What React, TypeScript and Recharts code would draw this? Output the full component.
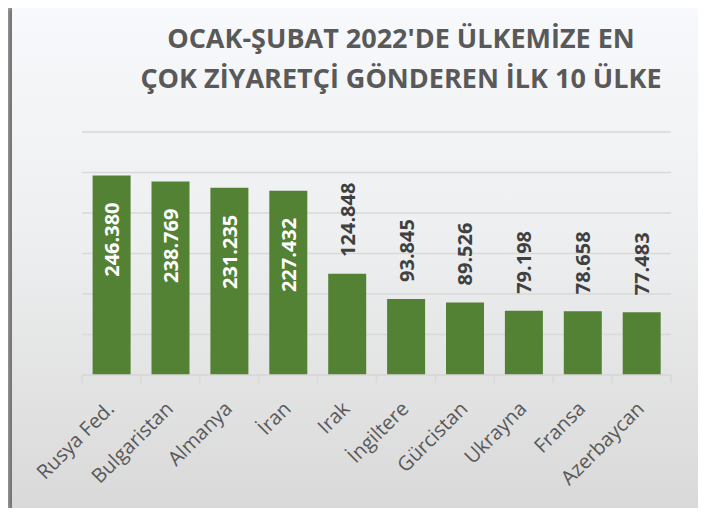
import React from "react";
import { BarChart, Bar, XAxis, YAxis, CartesianGrid, LabelList } from "recharts";

const categories = ["Rusya Fed.", "Bulgaristan", "Almanya", "İran", "Irak", "İngiltere", "Gürcistan", "Ukrayna", "Fransa", "Azerbaycan"];
const values = [246380, 238769, 231235, 227432, 124848, 93845, 89526, 79198, 78658, 77483];
const yTicks = [0, 50000, 100000, 150000, 200000, 250000, 300000];
const titleLines = ["OCAK-ŞUBAT 2022'DE ÜLKEMİZE EN", "ÇOK ZİYARETÇİ GÖNDEREN İLK 10 ÜLKE"];

const data = categories.map((name, i) => ({ name, value: values[i] }));

const W = 706;
const H = 516;
const PLOT_LEFT = 82;
const PLOT_RIGHT = 671;
const BAND = (PLOT_RIGHT - PLOT_LEFT) / categories.length;
const FONT = "'Open Sans', 'DejaVu Sans', sans-serif";

const fmt = (v: number) => String(v).replace(/\B(?=(\d{3})+(?!\d))/g, ".");

const AxisTick = (props: any) => {
  const { x, y, payload, index } = props;
  const tx = x + 4;
  const ty = y + 27;
  const bx = x - BAND / 2;
  return (
    <g>
      <line x1={bx} y1={y - 8} x2={bx} y2={y} stroke="#d9d9d9" strokeWidth={1.5} />
      {index === categories.length - 1 && (
        <line x1={x + BAND / 2} y1={y - 8} x2={x + BAND / 2} y2={y} stroke="#d9d9d9" strokeWidth={1.5} />
      )}
      <text
        x={tx}
        y={ty}
        transform={`rotate(-45, ${tx}, ${ty})`}
        textAnchor="end"
        fill="#595959"
        fontFamily={FONT}
        fontSize={20}
      >
        {payload.value}
      </text>
    </g>
  );
};

const ValueLabel = (props: any) => {
  const { x, y, width, value } = props;
  const cx = Number(x) + Number(width) / 2;
  const top = Number(y);
  const inside = Number(value) > 150000;
  const ly = inside ? top + 27 : top - 17;
  return (
    <text
      x={cx}
      y={ly}
      transform={`rotate(-90, ${cx}, ${ly})`}
      textAnchor={inside ? "end" : "start"}
      dominantBaseline="central"
      fill={inside ? "#ffffff" : "#404040"}
      fontFamily={FONT}
      fontWeight={700}
      fontSize={20}
    >
      {fmt(Number(value))}
    </text>
  );
};

export default function App() {
  return (
    <div style={{ margin: -8, width: W, height: H, position: "relative", background: "#f1f1f1", overflow: "hidden" }}>
      <div
        style={{
          position: "absolute",
          left: 12,
          top: 1,
          width: 689,
          height: 508,
          background: "linear-gradient(to bottom, #f7f9fc 0%, #eeeff0 45%, #d9d9d9 100%)",
          boxShadow: "-6px 4px 7px rgba(0,0,0,0.55)",
        }}
      />
      <div
        style={{
          position: "absolute",
          left: 0,
          top: 18,
          width: 802,
          textAlign: "center",
          fontFamily: FONT,
          fontWeight: 700,
          fontSize: 27,
          lineHeight: "40px",
          color: "#595959",
          whiteSpace: "nowrap",
        }}
      >
        {titleLines.map((t) => (
          <div key={t}>{t}</div>
        ))}
      </div>
      <div style={{ position: "absolute", left: 0, top: 0 }}>
        <BarChart
          width={W}
          height={H}
          data={data}
          margin={{ top: 132, right: W - PLOT_RIGHT, bottom: 1, left: PLOT_LEFT }}
          barCategoryGap="18%"
        >
          <CartesianGrid vertical={false} stroke="#d9d9d9" strokeWidth={1.5} />
          <YAxis hide domain={[0, 300000]} ticks={yTicks} />
          <XAxis
            dataKey="name"
            height={140}
            interval={0}
            axisLine={{ stroke: "#d9d9d9", strokeWidth: 1.5 }}
            tickLine={false}
            tickSize={8}
            tickMargin={0}
            tick={<AxisTick />}
          />
          <Bar dataKey="value" fill="#548235" isAnimationActive={false}>
            <LabelList dataKey="value" content={<ValueLabel />} />
          </Bar>
        </BarChart>
      </div>
    </div>
  );
}
